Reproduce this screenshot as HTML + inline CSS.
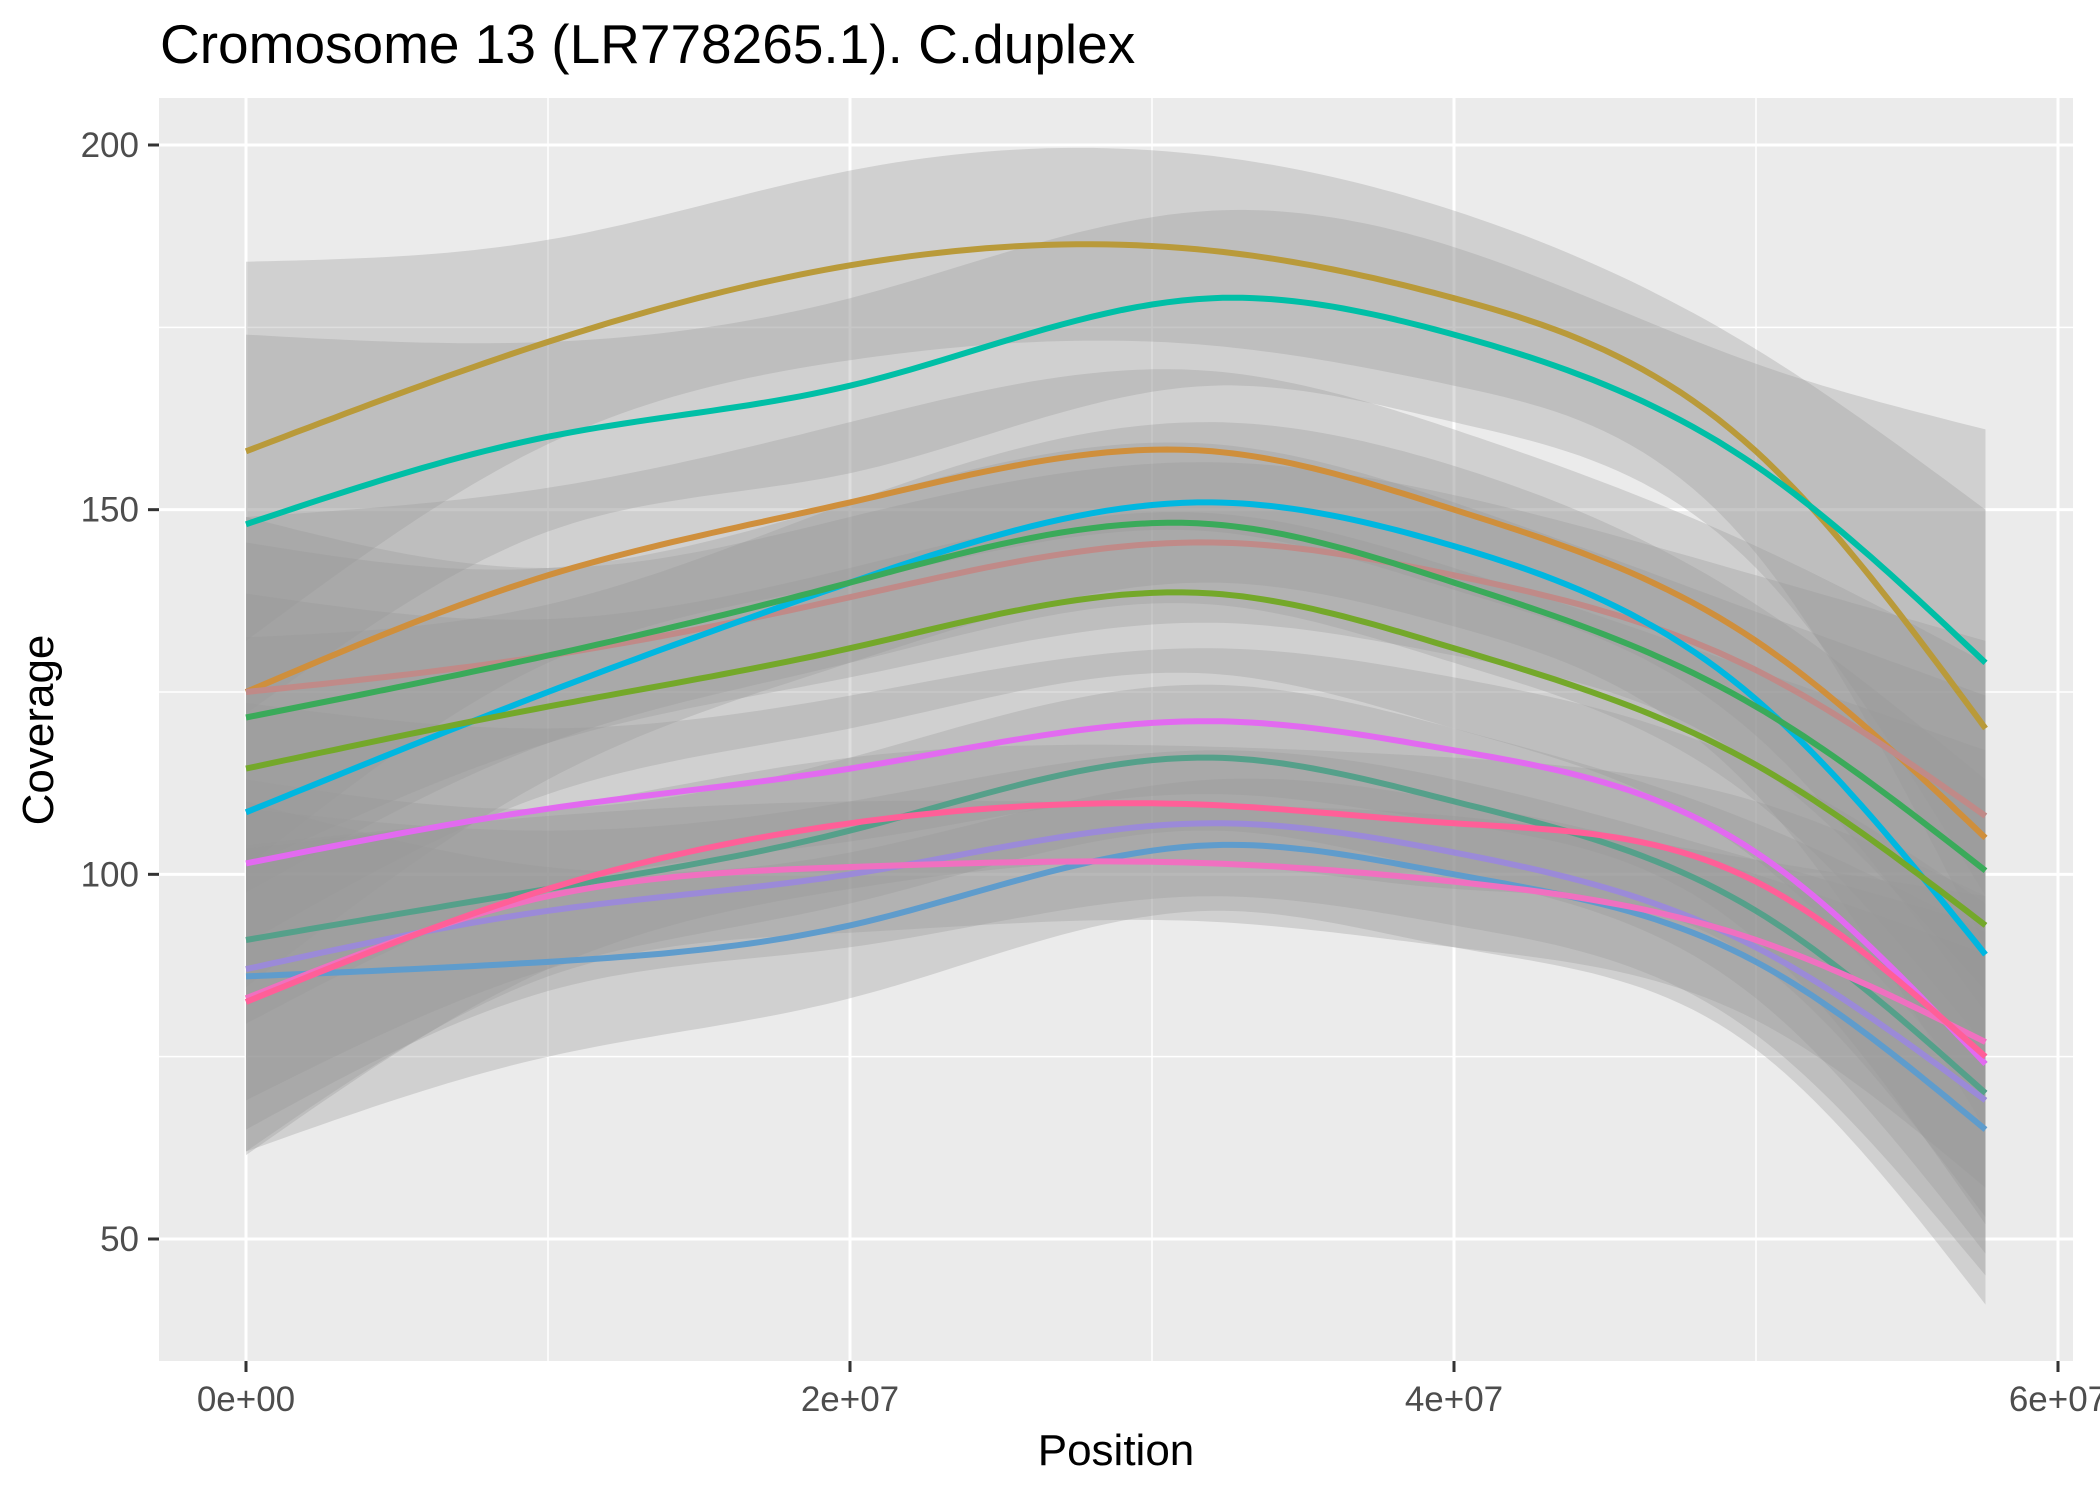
<!DOCTYPE html>
<html><head><meta charset="utf-8"><style>
body{margin:0;background:#fff}
svg{display:block;font-family:"Liberation Sans",Arial,sans-serif}
</style></head><body>
<svg id="chart" width="2100" height="1499" viewBox="0 0 2100 1499">
<rect x="0" y="0" width="2100" height="1499" fill="#fff"/>
<text x="160" y="63" font-size="55" fill="#000">Cromosome 13 (LR778265.1). C.duplex</text>
<rect x="159" y="98" width="1914" height="1263" fill="#ebebeb"/>
<g id="grid"></g>
<g id="series"></g>
<g id="axes"></g>
<text x="1116" y="1465" font-size="44" text-anchor="middle" fill="#000">Position</text>
<text transform="translate(53,730) rotate(-90)" font-size="44" text-anchor="middle" fill="#000">Coverage</text>
</svg>
<script>
const xs = [0, 10, 20, 32, 40, 50, 57.6];
const names = ["gold","teal","orange","faint-red","cyan","green","olive","magenta","teal-green","purple","blue","pink","hot-pink"];
const colors = ["#b99a3a","#00bfa6","#cf8f3c","#c08a88","#00b7e0","#3aaa5a","#74a82a","#e26af0","#55a08a","#9b8ad8","#5f9ccc","#f070c0","#ff5f98"];
const vals = [
 [158,173,183.5,185.5,179,158,120],
 [148,160,167,179,174,156,129],
 [125,141,151,158,150,132,105],
 [125,130,138,145.5,141,128,108],
 [108.5,125,140,151,145,124,89],
 [121.5,130,140,148,140,123,100.5],
 [114.5,123,131,138.5,131,115,93],
 [101.5,109,114.5,121,117,103,74],
 [91,98,106,116,110,95,70],
 [87,95,100,107,103,90,69],
 [86,88,93,104,100,88,65],
 [83,97,101,101.5,99,91,77],
 [82.5,98,107,109.5,107,99,75]
];
const ses = [
 [26,14,13,13,12,14,30],
 [26,13,12,12,12,14,32],
 [24,12,11,11,11,13,24],
 [24,12,11,11,11,13,24],
 [24,12,11,11,11,13,24],
 [24,12,11,11,11,13,24],
 [24,12,11,11,11,13,24],
 [22,11,10,10,10,12,22],
 [22,11,10,10,10,12,22],
 [22,11,10,10,10,12,24],
 [24,13,10,9,10,12,24],
 [21,11,9,8,9,11,20],
 [21,11,9,8,9,11,22]
];
const yTicks = [50,100,150,200];
const xTicks = [0,20,40,60];
const xTickLabels = ["0e+00","2e+07","4e+07","6e+07"];

const X = v => 246 + (v/60)*(2058-246);
const Y = v => 145 + (200-v)*(1239-145)/150;
const NS="http://www.w3.org/2000/svg";
function mk(t,a,p){const e=document.createElementNS(NS,t);for(const k in a)e.setAttribute(k,a[k]);p.appendChild(e);return e;}
function sample(y){ // natural cubic spline in x
 const n=xs.length,h=[],al=[0],l=[1],mu=[0],z=[0],c=new Array(n).fill(0),b=[],d=[];
 for(let i=0;i<n-1;i++)h.push(xs[i+1]-xs[i]);
 for(let i=1;i<n-1;i++)al.push(3/h[i]*(y[i+1]-y[i])-3/h[i-1]*(y[i]-y[i-1]));
 for(let i=1;i<n-1;i++){l[i]=2*(xs[i+1]-xs[i-1])-h[i-1]*mu[i-1];mu[i]=h[i]/l[i];z[i]=(al[i]-h[i-1]*z[i-1])/l[i];}
 l[n-1]=1;z[n-1]=0;
 for(let j=n-2;j>=0;j--){c[j]=z[j]-mu[j]*c[j+1];b[j]=(y[j+1]-y[j])/h[j]-h[j]*(c[j+1]+2*c[j])/3;d[j]=(c[j+1]-c[j])/(3*h[j]);}
 const pts=[];
 for(let i=0;i<n-1;i++)for(let s=0;s<24;s++){const t=h[i]*s/24;pts.push([xs[i]+t,y[i]+b[i]*t+c[i]*t*t+d[i]*t*t*t]);}
 pts.push([xs[n-1],y[n-1]]);
 return pts;
}
const grid=document.getElementById('grid');
[75,125,175].forEach(v=>mk('line',{x1:159,x2:2073,y1:Y(v),y2:Y(v),stroke:'#fff','stroke-width':1.5},grid));
[10,30,50].forEach(v=>mk('line',{y1:98,y2:1361,x1:X(v),x2:X(v),stroke:'#fff','stroke-width':1.5},grid));
yTicks.forEach(v=>mk('line',{x1:159,x2:2073,y1:Y(v),y2:Y(v),stroke:'#fff','stroke-width':3},grid));
xTicks.forEach(v=>mk('line',{y1:98,y2:1361,x1:X(v),x2:X(v),stroke:'#fff','stroke-width':3},grid));
const sg=document.getElementById('series');
vals.forEach((arr,i)=>{
 const lo=arr.map((v,j)=>v-ses[i][j]),hi=arr.map((v,j)=>v+ses[i][j]);
 const a=sample(hi),b=sample(lo).reverse();
 const d='M'+a.concat(b).map(p=>X(p[0]).toFixed(1)+','+Y(p[1]).toFixed(1)).join('L')+'Z';
 const r=mk('path',{d:d,fill:'#999999','fill-opacity':0.32},sg);
 
 
});
vals.forEach((arr,i)=>{
 const d='M'+sample(arr).map(p=>X(p[0]).toFixed(1)+','+Y(p[1]).toFixed(1)).join('L');
 const l=mk('path',{d:d,fill:'none',stroke:colors[i],'stroke-width':6},sg);
 
 
});
const ax=document.getElementById('axes');
yTicks.forEach(v=>{
 mk('line',{x1:148,x2:159,y1:Y(v),y2:Y(v),stroke:'#333','stroke-width':3},ax);
 const t=mk('text',{x:139,y:Y(v)+12,'font-size':35,'text-anchor':'end',fill:'#4d4d4d'},ax);
 t.textContent=v;
 
 
});
xTicks.forEach((v,i)=>{
 mk('line',{x1:X(v),x2:X(v),y1:1361,y2:1372,stroke:'#333','stroke-width':3},ax);
 const t=mk('text',{x:X(v),y:1411,'font-size':35,'text-anchor':'middle',fill:'#4d4d4d'},ax);
 t.textContent=xTickLabels[i];
 
 
});
</script>
</body></html>
